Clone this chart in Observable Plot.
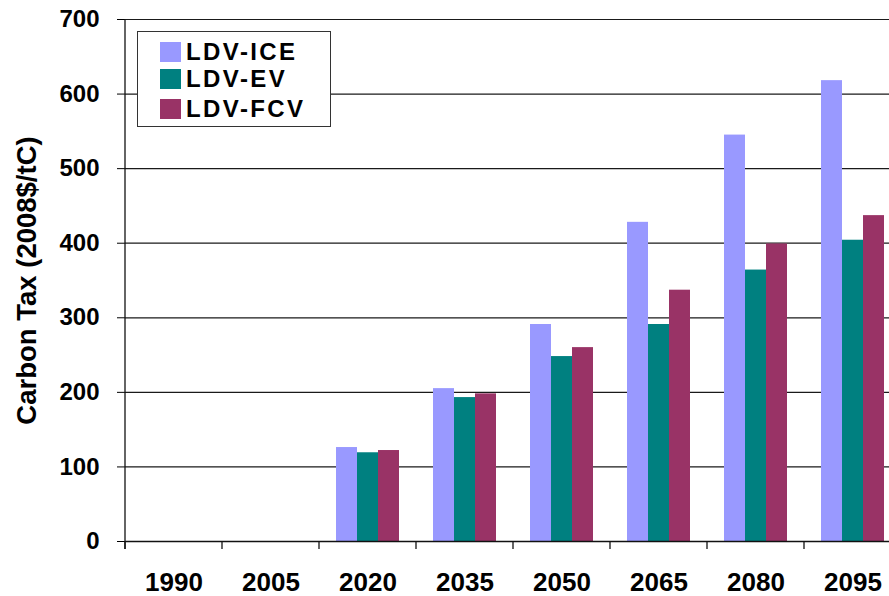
<!DOCTYPE html>
<html>
<head>
<meta charset="utf-8">
<script src="https://cdn.jsdelivr.net/npm/d3@7"></script>
<script src="https://cdn.jsdelivr.net/npm/@observablehq/plot@0.6"></script>
<style>
  html, body { margin: 0; padding: 0; background: #fff; overflow: hidden; }
  #wrap { position: relative; width: 889px; height: 596px; overflow: hidden; font-family: "Liberation Sans", Arial, sans-serif; }
  #legend { position: absolute; left: 137px; top: 31px; width: 192px; height: 94px; border: 1px solid #333; background: #fff; }
  .row { position: absolute; left: 22px; height: 22px; display: flex; align-items: center; font-weight: bold; font-size: 24px; letter-spacing: 2.4px; color: #000; white-space: nowrap; }
  .sw { width: 21px; height: 20px; margin-right: 5px; flex: none; }
</style>
</head>
<body>
<div id="wrap"><div id="chart"></div><div id="legend"></div></div>
<script>
const years = ["1990", "2005", "2020", "2035", "2050", "2065", "2080", "2095"];
const series = ["LDV-ICE", "LDV-EV", "LDV-FCV"];
const ice = [null, null, 126, 205, 291, 428, 545, 618];
const ev  = [null, null, 119, 193, 248, 291, 364, 404];
const fcv = [null, null, 122, 198, 260, 337, 399, 437];
const yTicks = [0, 100, 200, 300, 400, 500, 600, 700];
const colors = ["#9999ff", "#008080", "#993366"];
const yTitle = "Carbon Tax (2008$/tC)";

const rows = [];
years.forEach((yr, i) => {
  [ice, ev, fcv].forEach((arr, j) => rows.push({year: yr, series: series[j], value: arr[i]}));
});

const chart = Plot.plot({
  width: 889,
  height: 596,
  marginLeft: 123,
  marginRight: -14,
  marginTop: 19,
  marginBottom: 55,
  style: {fontFamily: "'Liberation Sans', Arial, sans-serif", fontWeight: "bold", fontSize: "24px", color: "#000", background: "#fff"},
  fx: {domain: years, padding: 0, label: null},
  x: {domain: series, paddingInner: 0, paddingOuter: 0.79, axis: null},
  y: {domain: [0, 700], label: null},
  color: {domain: series, range: colors},
  marks: [
    Plot.ruleY(yTicks.filter(d => d > 0), {stroke: "#1a1a1a", strokeWidth: 1.2}),
    Plot.barY(rows, {fx: "year", x: "series", y: "value", fill: "series"}),
    Plot.ruleY([0], {stroke: "#111", strokeWidth: 1.5}),
    Plot.axisY({ticks: yTicks, tickSize: 8, tickPadding: 18, fontSize: 24, label: null}),
    Plot.axisY({ticks: [], tickSize: 0, fontSize: 27.5, label: yTitle, labelAnchor: "center", labelArrow: "none", labelOffset: 109}),
    Plot.axisFx({anchor: "bottom", tickSize: 0, tickPadding: 31, fontSize: 26, label: null})
  ]
});

// boundary tick marks and y-axis line, positioned from Plot's own scales
const fxs = chart.scale("fx"), ys = chart.scale("y");
const y0 = ys.apply(0), yTop = ys.apply(700);
const g = d3.select(chart).append("g").attr("stroke", "#111").attr("stroke-width", 1.3);
const left = fxs.apply(years[0]);
g.append("line").attr("x1", left).attr("x2", left).attr("y1", yTop).attr("y2", y0 + 8);
years.forEach(yr => {
  const x = fxs.apply(yr);
  g.append("line").attr("x1", x).attr("x2", x).attr("y1", y0).attr("y2", y0 + 8);
});

document.getElementById("chart").appendChild(chart);

// legend
const legend = d3.select("#legend");
const rowTops = [9, 36, 66];
series.forEach((s, i) => {
  const r = legend.append("div").attr("class", "row").style("top", rowTops[i] + "px");
  r.append("div").attr("class", "sw").style("background", colors[i]);
  r.append("span").text(s);
});
</script>
</body>
</html>
